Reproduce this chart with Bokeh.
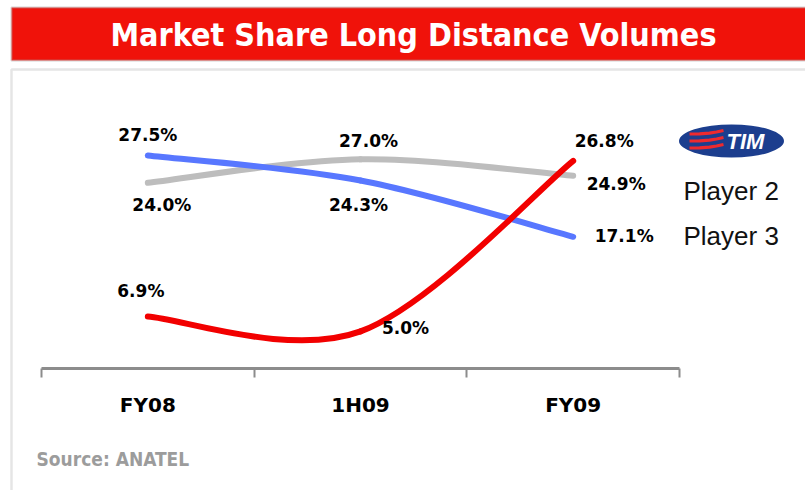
import numpy as np
from bokeh.plotting import figure
from bokeh.models import ColumnDataSource, FixedTicker, Label, BoxAnnotation, Range1d
from bokeh.embed import file_html
from bokeh.resources import INLINE
from bokeh.core.properties import value

# ---------------- data ----------------
categories = ["FY08", "1H09", "FY09"]
tim = [6.9, 5.0, 26.8]
player2 = [24.0, 27.0, 24.9]
player3 = [27.5, 24.3, 17.1]
legend_names = ["Player 2", "Player 3"]
title_text = "Market Share Long Distance Volumes"
source_text = "Source: ANATEL"

# ---------------- layout constants ----------------
W, H = 805, 490
PX_X = 212.67          # pixels per category band
PX_Y = 7.82            # pixels per percentage point
ZERO_Y = 370           # canvas row of the 0 % level
AXIS_Y = 368           # canvas row of the category axis line
X_LO = -41 / PX_X
Y_LO = (ZERO_Y - H) / PX_Y

p = figure(width=W, height=H, output_backend="svg", toolbar_location=None,
           title=None,
           x_range=Range1d(X_LO, X_LO + W / PX_X),
           y_range=Range1d(Y_LO, Y_LO + H / PX_Y),
           y_axis_location=None,
           min_border_left=0, min_border_right=0, min_border_top=0,
           min_border_bottom=0)
p.grid.visible = False
p.outline_line_color = None
p.background_fill_color = "white"
p.border_fill_color = "white"


def sx(page_x):
    return page_x


def sy(page_y):
    return H - page_y


def dx(page_x):
    return X_LO + page_x / PX_X


def dy(page_y):
    return Y_LO + (H - page_y) / PX_Y


# ---------------- decorations ----------------
title_box = BoxAnnotation(left=sx(11), right=W + 30, top=sy(7), bottom=sy(60),
                          left_units="screen", right_units="screen",
                          top_units="screen", bottom_units="screen",
                          fill_color="#F0120A", fill_alpha=1.0,
                          line_color="#A0A0A0", line_width=2.5, level="underlay")
p.add_layout(title_box)
panel_box = BoxAnnotation(left=sx(11), right=W + 30, top=sy(69), bottom=sy(540),
                          left_units="screen", right_units="screen",
                          top_units="screen", bottom_units="screen",
                          fill_alpha=0, line_color="#A8A8A8", line_width=2.5,
                          level="underlay")
p.add_layout(panel_box)

p.add_layout(Label(x=sx(413), y=sy(34), x_units="screen", y_units="screen",
                   text=title_text, text_align="center", text_baseline="middle",
                   text_font="DejaVu Sans Condensed", text_font_style="bold",
                   text_font_size="32px", text_color="white"))

p.add_layout(Label(x=sx(36), y=sy(458), x_units="screen", y_units="screen",
                   text=source_text, text_align="left", text_baseline="middle",
                   text_font="DejaVu Sans Condensed", text_font_style="bold",
                   text_font_size="19px", text_color="#9C9C9C"))

# ---------------- series (smoothed like Excel) ----------------
xs = np.arange(len(categories)) + 0.5


def bezier_parts(xv, yv):
    n = len(xv)
    P = list(zip(xv, yv))
    out = {k: [] for k in ("x0", "y0", "x1", "y1", "cx0", "cy0", "cx1", "cy1")}
    for i in range(n - 1):
        p0 = P[i - 1] if i > 0 else P[i]
        p1, p2 = P[i], P[i + 1]
        p3 = P[i + 2] if i + 2 < n else P[i + 1]
        out["x0"].append(p1[0]); out["y0"].append(p1[1])
        out["x1"].append(p2[0]); out["y1"].append(p2[1])
        out["cx0"].append(p1[0] + (p2[0] - p0[0]) / 6)
        out["cy0"].append(p1[1] + (p2[1] - p0[1]) / 6)
        out["cx1"].append(p2[0] - (p3[0] - p1[0]) / 6)
        out["cy1"].append(p2[1] - (p3[1] - p1[1]) / 6)
    return out


series = [
    (player2, "#BDBDBD", [(14, 22), (8, -18), (43, 8)]),
    (player3, "#5877FF", [(0, -20), (-2, 25), (51, -1)]),
    (tim, "#F20000", [(-7, -26), (45, -3), (31, -20)]),
]

for vals, color, offs in series:
    src = ColumnDataSource(bezier_parts(list(xs), vals))
    p.bezier(x0="x0", y0="y0", x1="x1", y1="y1", cx0="cx0", cy0="cy0",
             cx1="cx1", cy1="cy1", source=src, line_color=color,
             line_width=6, line_cap="round")

for vals, color, offs in series:
    lsrc = ColumnDataSource(dict(
        x=list(xs), y=vals, t=[f"{v:.1f}%" for v in vals],
        xo=[o[0] for o in offs], yo=[o[1] for o in offs]))
    p.text(x="x", y="y", text="t", x_offset="xo", y_offset="yo", source=lsrc,
           text_align="center", text_baseline="middle",
           text_font=value("DejaVu Sans"), text_font_style="bold",
           text_font_size="17px", text_color="black")

# ---------------- legend (logo + names) ----------------
p.ellipse(x=[dx(731)], y=[dy(140.5)], width=105, height=33,
          width_units="screen", height_units="screen",
          fill_color="#1C3E8E", line_color=None)
stripe_x = [689, 699, 709, 716, 723]
for base in [133, 140, 147]:
    wave = [0.5, 0.3, -0.3, -1.5, -3.0]
    p.line(x=[dx(v) for v in stripe_x], y=[dy(base + w) for w in wave],
           line_color="#EE2A2E", line_width=3.2)
p.add_layout(Label(x=sx(726), y=sy(141), x_units="screen", y_units="screen",
                   text="TIM", text_align="left", text_baseline="middle",
                   text_font="Liberation Sans", text_font_style="bold italic",
                   text_font_size="22px", text_color="white"))
for name, py in zip(legend_names, [190, 235]):
    p.add_layout(Label(x=sx(683), y=sy(py), x_units="screen", y_units="screen",
                       text=name, text_align="left", text_baseline="middle",
                       text_font="Liberation Sans", text_font_size="26px",
                       text_color="#111111"))

# ---------------- axis ----------------
ax = p.xaxis[0]
ax.fixed_location = (ZERO_Y - AXIS_Y) / PX_Y
ax.ticker = FixedTicker(ticks=[float(v) for v in xs],
                        minor_ticks=list(range(len(categories) + 1)))
ax.major_label_overrides = {float(v): c for v, c in zip(xs, categories)}
ax.bounds = (0, len(categories))
ax.axis_line_color = "#8C8C8C"
ax.axis_line_width = 3
ax.major_tick_line_color = None
ax.major_tick_in = 0
ax.major_tick_out = 0
ax.minor_tick_line_color = "#8C8C8C"
ax.minor_tick_line_width = 2
ax.minor_tick_in = 0
ax.minor_tick_out = 9
ax.major_label_standoff = 15
ax.major_label_text_font = "DejaVu Sans"
ax.major_label_text_font_style = "bold"
ax.major_label_text_font_size = "20px"
ax.major_label_text_color = "black"

open("out.html", "w").write(file_html(p, INLINE))
